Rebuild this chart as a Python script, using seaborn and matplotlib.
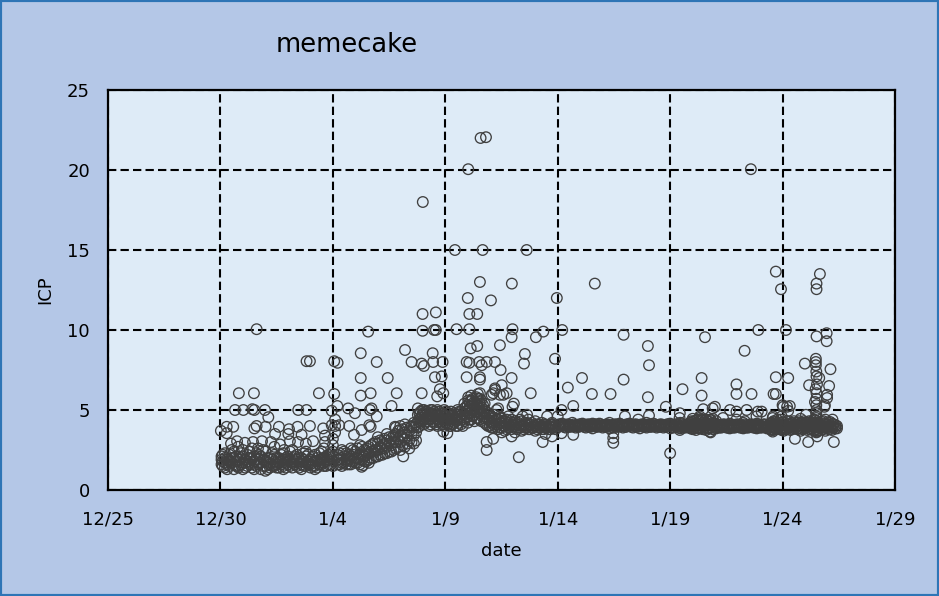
import numpy as np
import pandas as pd
import matplotlib
matplotlib.use("Agg")
import matplotlib.pyplot as plt
from matplotlib.patches import Rectangle
import seaborn as sns

# ---------------- data ----------------
start_date = "2021-12-25"
title = "memecake"
x_label = "date"
y_label = "ICP"
x_tick_labels = ["12/25", "12/30", "1/4", "1/9", "1/14", "1/19", "1/24", "1/29"]
y_ticks = [0, 5, 10, 15, 20, 25]

# dense bands: (days after 12/25, [ICP values at that time])
band_a = [
    (5.05, [1.9, 1.6, 2.1]), (5.2, [1.7, 1.4, 2.0, 2.3]), (5.4, [1.5, 1.8, 2.2]),
    (5.6, [1.3, 1.6, 2.0, 2.4]), (5.8, [1.5, 1.9, 1.4]), (6.0, [1.7, 2.1, 1.3, 2.5]),
    (6.2, [1.5, 1.8, 2.2]), (6.4, [1.4, 1.6, 2.0, 2.6]), (6.6, [1.5, 1.9, 2.3]),
    (6.8, [1.3, 1.7, 2.1]), (7.0, [1.5, 1.8, 2.4, 1.2]), (7.2, [1.6, 2.0, 1.4]),
    (7.4, [1.5, 1.8, 2.2, 2.7]), (7.6, [1.4, 1.7, 2.0]), (7.8, [1.5, 1.9, 2.3, 1.3]),
    (8.0, [1.6, 1.8, 2.1]), (8.2, [1.4, 1.7, 2.0, 2.5]), (8.4, [1.5, 1.9, 2.2]),
    (8.6, [1.3, 1.6, 2.0, 1.8]), (8.8, [1.5, 1.7, 2.1, 2.4]), (9.0, [1.4, 1.6, 1.9]),
    (9.2, [1.5, 1.8, 2.2, 1.3]), (9.4, [1.6, 1.9, 2.3]), (9.6, [1.5, 1.7, 2.0, 2.6]),
    (9.8, [1.6, 1.9, 2.2]),
]
band_a2 = [
    (5.1, [1.5, 1.8, 2.2]), (5.3, [1.6, 1.9, 1.3]), (5.5, [1.7, 2.0, 2.5]),
    (5.7, [1.5, 1.8, 2.1]), (5.9, [1.6, 2.0, 2.3]), (6.1, [1.4, 1.7, 1.9]),
    (6.3, [1.6, 2.0, 2.4]), (6.5, [1.3, 1.8, 2.1]), (6.7, [1.6, 1.7, 2.2]),
    (6.9, [1.5, 1.9, 2.5]), (7.1, [1.3, 1.7, 2.0]), (7.3, [1.5, 1.9, 2.3]),
    (7.5, [1.4, 1.6, 2.0]), (7.7, [1.6, 1.8, 2.2]), (7.9, [1.4, 1.7, 2.0]),
    (8.1, [1.5, 1.9, 2.4]), (8.3, [1.6, 1.8, 2.1]), (8.5, [1.4, 1.7, 2.0]),
    (8.7, [1.5, 1.9, 2.3]), (8.9, [1.6, 1.8, 2.2]), (9.1, [1.5, 1.7, 2.1]),
    (9.3, [1.4, 1.8, 2.0]), (9.5, [1.6, 1.9, 2.4]), (9.7, [1.5, 1.8, 2.1]),
    (9.9, [1.6, 2.0, 2.3]),
]
band_b = [
    (10.0, [1.5, 1.8, 2.1, 2.4, 2.8, 3.2]), (10.1, [3.6, 4.0, 4.4]), (10.2, [1.6, 1.9, 2.2]),
    (10.4, [1.7, 2.0, 1.5, 2.5]), (10.6, [1.6, 1.9, 2.3]), (10.8, [1.8, 2.1, 1.6, 2.6]),
    (11.0, [1.7, 2.0, 2.4]), (11.2, [1.9, 2.2, 1.6, 2.8]), (11.4, [1.8, 2.1, 2.5]),
    (11.6, [1.9, 2.3, 2.7, 1.7]), (11.8, [2.0, 2.4, 2.9]), (12.0, [2.1, 2.5, 2.9, 3.3]),
    (12.2, [2.2, 2.6, 3.0]), (12.4, [2.3, 2.7, 3.1, 3.5]), (12.6, [2.4, 2.8, 3.2]),
    (12.8, [2.6, 3.0, 3.5, 3.9]), (13.0, [2.5, 3.0, 3.4, 4.0]), (13.2, [2.7, 3.2, 3.6, 4.1]),
    (13.4, [2.6, 3.1, 3.7]), (13.6, [2.9, 3.4, 3.9, 4.2]),
]
band_b2 = [
    (10.3, [1.6, 1.9, 2.3]), (10.5, [1.7, 2.1, 2.4]), (10.7, [1.6, 2.0, 2.2]),
    (10.9, [1.8, 2.2, 2.5]), (11.1, [1.7, 2.0, 2.6]), (11.3, [1.9, 2.3, 2.7]),
    (11.5, [1.8, 2.2, 2.6]), (11.7, [2.0, 2.4, 2.8]), (11.9, [2.1, 2.5, 3.0]),
    (12.1, [2.2, 2.7, 3.1]), (12.3, [2.3, 2.8, 3.2]), (12.5, [2.4, 2.9, 3.3]),
    (12.7, [2.5, 3.0, 3.4]), (12.9, [2.7, 3.2, 3.7]), (13.1, [2.8, 3.3, 3.8]),
    (13.3, [2.9, 3.4, 3.9]), (13.5, [3.0, 3.5, 4.0]), (13.7, [3.1, 3.6, 4.1]),
]
band_c = [
    (13.78, [3.9, 4.3, 4.7, 5.1]), (13.9, [4.2, 4.5, 4.9]), (14.05, [4.1, 4.4, 4.8, 5.0]),
    (14.2, [4.3, 4.6, 4.9]), (14.35, [4.1, 4.5, 4.8, 5.0]), (14.5, [4.2, 4.6, 4.9]),
    (14.65, [4.0, 4.4, 4.7, 5.0]), (14.8, [4.2, 4.5, 4.8]), (14.95, [4.0, 4.3, 4.7, 5.0]),
    (15.1, [4.1, 4.4, 4.8]), (15.25, [4.0, 4.3, 4.6, 4.9]), (15.4, [4.2, 4.5, 4.8]),
    (15.55, [4.0, 4.4, 4.7, 5.0]), (15.7, [4.1, 4.5, 4.9]), (15.85, [4.3, 4.7, 5.1, 5.4]),
    (16.0, [4.2, 4.6, 5.0, 5.3]), (16.15, [4.4, 4.8, 5.2, 5.6, 5.9]), (16.3, [4.3, 4.7, 5.1, 5.5]),
    (16.45, [4.5, 4.9, 5.3, 5.7, 6.0]), (16.6, [4.3, 4.8, 5.2, 5.6]), (16.75, [4.2, 4.6, 5.0, 5.4]),
    (16.9, [4.0, 4.4, 4.8]), (17.05, [3.9, 4.2, 4.6]), (17.2, [4.0, 4.3, 4.7]),
    (17.35, [3.8, 4.1, 4.4]), (17.5, [3.9, 4.2, 4.5]), (17.65, [3.7, 4.0, 4.3]),
    (17.8, [3.9, 4.2, 4.6]), (17.95, [3.8, 4.1, 4.4]), (18.1, [3.6, 4.0, 4.3]),
    (18.25, [3.9, 4.2]), (18.4, [3.7, 4.0, 4.3]), (18.55, [3.9, 4.1]),
    (18.7, [3.8, 4.0, 4.4]), (18.85, [3.9, 4.2]), (19.0, [3.7, 4.0, 4.3]),
    (19.15, [3.9, 4.1]), (19.3, [3.8, 4.0, 4.2]), (19.45, [3.9, 4.1, 3.5]),
    (19.6, [3.8, 4.0]), (19.75, [3.9, 4.1, 4.2, 3.35]), (19.9, [3.8, 4.0]),
]
band_c2 = [
    (13.85, [4.0, 4.4, 4.8]), (13.98, [4.3, 4.7, 5.0]), (14.12, [4.2, 4.5, 4.9]),
    (14.28, [4.0, 4.4, 4.8]), (14.42, [4.3, 4.7, 5.0]), (14.58, [4.1, 4.5, 4.8]),
    (14.72, [4.3, 4.6, 4.9]), (14.88, [4.1, 4.4, 4.8]), (15.02, [4.2, 4.6, 4.9]),
    (15.18, [4.0, 4.5, 4.8]), (15.32, [4.1, 4.4, 4.7]), (15.48, [4.0, 4.3, 4.6]),
    (15.62, [4.2, 4.6, 4.9]), (15.78, [4.0, 4.4, 4.8]), (15.92, [4.5, 4.9, 5.2]),
    (16.08, [4.4, 4.8, 5.1, 5.5]), (16.22, [4.6, 5.0, 5.4, 5.7]), (16.38, [4.5, 4.9, 5.3, 5.8]),
    (16.52, [4.4, 4.8, 5.1, 5.5]), (16.68, [4.5, 4.9, 5.3]), (16.82, [4.1, 4.5, 4.9]),
    (16.98, [4.0, 4.3, 4.7]), (17.12, [3.9, 4.2, 4.5]), (17.28, [4.1, 4.4]),
    (17.42, [3.9, 4.2, 4.6]), (17.58, [4.0, 4.3]), (17.72, [3.8, 4.1, 4.4]),
    (17.88, [4.0, 4.3]), (18.02, [3.9, 4.2]), (18.18, [3.8, 4.1]),
    (18.32, [3.9, 4.1, 4.4]), (18.48, [3.8, 4.0]), (18.62, [3.9, 4.2]),
    (18.78, [3.8, 4.1]), (18.92, [3.9, 4.0]), (19.08, [3.8, 4.1]),
    (19.22, [3.9, 4.0]), (19.38, [3.8, 4.1]), (19.52, [3.9, 4.0]),
    (19.68, [3.8, 4.1]), (19.82, [3.9, 4.0]),
]
band_d = [
    (20.05, [3.95, 4.1]), (20.2, [4.0, 4.15]), (20.35, [3.9, 4.05]), (20.5, [3.95, 4.1]),
    (20.65, [4.0, 4.2]), (20.8, [3.9, 4.05]), (20.95, [3.95, 4.1]), (21.1, [4.0, 4.15]),
    (21.25, [3.9, 4.05]), (21.4, [3.95, 4.1]), (21.55, [3.85, 4.0, 4.15]), (21.7, [3.95, 4.1]),
    (21.85, [4.0, 4.15]), (22.0, [3.9, 4.05]), (22.15, [3.95, 4.1]), (22.3, [3.85, 4.0, 4.2]),
    (22.45, [3.9, 4.05]), (22.6, [3.95, 4.1]), (22.75, [4.0, 4.15]), (22.9, [3.9, 4.05]),
    (23.05, [3.95, 4.1]), (23.2, [4.0, 4.15]), (23.35, [3.9, 4.05]), (23.5, [3.95, 4.1]),
    (23.65, [3.85, 4.0]), (23.8, [3.95, 4.1]), (23.95, [3.9, 4.05, 4.2]), (24.1, [3.95, 4.1]),
    (24.25, [4.0, 4.15]), (24.4, [3.9, 4.05]), (24.55, [3.95, 4.1]), (24.7, [3.9, 4.05]),
    (24.85, [3.95, 4.1]),
]
band_d2 = [
    (20.12, [4.0, 4.1]), (20.28, [3.95, 4.05]), (20.42, [4.0, 4.1]), (20.58, [3.95, 4.05]),
    (20.72, [4.0, 4.1]), (20.88, [3.95, 4.05]), (21.02, [4.0, 4.1]), (21.18, [3.95, 4.05]),
    (21.32, [4.0, 4.1]), (21.48, [3.95, 4.05]), (21.62, [4.0, 4.1]), (21.78, [3.95, 4.05]),
    (21.92, [4.0, 4.1]), (22.08, [3.95, 4.05]), (22.22, [4.0, 4.1]), (22.38, [3.95, 4.05]),
    (22.52, [4.0, 4.1]), (22.68, [3.95, 4.05]), (22.82, [4.0, 4.1]), (22.98, [3.95, 4.05]),
    (23.12, [4.0, 4.1]), (23.28, [3.95, 4.05]), (23.42, [4.0, 4.1]), (23.58, [3.95, 4.05]),
    (23.72, [4.0, 4.1]), (23.88, [3.95, 4.05]), (24.02, [4.0, 4.1]), (24.18, [3.95, 4.05]),
    (24.32, [4.0, 4.1]), (24.48, [3.95, 4.05]), (24.62, [4.0, 4.1]), (24.78, [3.95, 4.05]),
    (24.92, [4.0, 4.1]),
]
band_e = [
    (25.0, [3.85, 4.0, 4.15]), (25.15, [3.9, 4.05]), (25.3, [3.95, 4.1]), (25.45, [3.85, 4.0, 4.2]),
    (25.6, [3.9, 4.05]), (25.75, [3.95, 4.1]), (25.9, [3.85, 4.0, 4.2]), (26.0, [3.8, 4.0, 4.25, 4.45]),
    (26.15, [3.75, 3.95, 4.15, 4.35]), (26.3, [3.85, 4.05, 4.3, 4.5]), (26.45, [3.8, 4.0, 4.2, 4.4]),
    (26.6, [3.75, 3.95, 4.15, 4.4]), (26.75, [3.85, 4.05, 4.25]), (26.9, [3.8, 4.0, 4.2, 4.45]),
    (27.05, [3.85, 4.05, 4.3]), (27.2, [3.9, 4.05]), (27.35, [3.95, 4.1]), (27.5, [3.9, 4.05]),
    (27.65, [3.85, 4.0, 4.15]), (27.8, [3.9, 4.05]), (27.95, [3.95, 4.1]), (28.1, [3.9, 4.05]),
    (28.25, [3.85, 4.0, 4.2]), (28.4, [3.9, 4.05]), (28.55, [3.95, 4.1]), (28.7, [3.9, 4.05]),
    (28.85, [3.85, 4.0, 4.15]), (29.0, [3.9, 4.05]), (29.15, [3.95, 4.1]), (29.3, [3.85, 4.0]),
    (29.45, [3.8, 3.95, 4.15]), (29.6, [3.75, 3.9, 4.1, 4.3]), (29.75, [3.8, 4.0, 4.2]),
]
band_e2 = [
    (25.08, [3.95, 4.05]), (25.22, [4.0, 4.1]), (25.38, [3.9, 4.05]), (25.52, [3.95, 4.1]),
    (25.68, [3.9, 4.0]), (25.82, [3.95, 4.1]), (25.95, [3.9, 4.1, 4.3]), (26.08, [3.85, 4.1, 4.3]),
    (26.22, [3.9, 4.15, 4.4]), (26.38, [3.85, 4.1, 4.35]), (26.52, [3.9, 4.1, 4.3]),
    (26.68, [3.85, 4.1, 4.3]), (26.82, [3.9, 4.1, 4.35]), (26.98, [3.9, 4.15]),
    (27.12, [3.95, 4.1]), (27.28, [3.9, 4.0]), (27.42, [3.95, 4.1]), (27.58, [3.9, 4.05]),
    (27.72, [3.95, 4.1]), (27.88, [3.9, 4.0]), (28.02, [3.95, 4.1]), (28.18, [3.9, 4.05]),
    (28.32, [3.95, 4.1]), (28.48, [3.9, 4.0]), (28.62, [3.95, 4.1]), (28.78, [3.9, 4.05]),
    (28.92, [3.95, 4.1]), (29.08, [3.9, 4.0]), (29.22, [3.95, 4.1]), (29.38, [3.85, 4.05]),
    (29.52, [3.8, 4.0, 4.2]), (29.68, [3.85, 4.05, 4.25]), (29.82, [3.9, 4.1]),
]
band_f = [
    (29.9, [3.8, 4.0, 4.2, 4.4]), (30.05, [3.7, 3.9, 4.1]), (30.2, [3.8, 4.0, 4.3]),
    (30.35, [3.75, 3.95, 4.15]), (30.5, [3.85, 4.05, 4.3]), (30.65, [3.8, 4.0, 4.2]),
    (30.8, [3.7, 3.95, 4.2, 4.45]), (30.95, [3.85, 4.05, 4.3]), (31.1, [3.75, 3.95, 4.2]),
    (31.25, [3.8, 4.0, 4.25]), (31.4, [3.7, 3.9, 4.15, 4.4]), (31.5, [3.6, 3.8, 4.0, 4.2, 4.5, 4.8]),
    (31.6, [3.75, 3.95, 4.2]), (31.75, [3.8, 4.0, 4.25]), (31.9, [3.7, 3.95, 4.15, 4.4]),
    (32.05, [3.8, 4.0, 4.2]), (32.2, [3.75, 3.95, 4.15]), (32.35, [3.85, 4.05]),
]
band_f2 = [
    (29.98, [3.85, 4.05, 4.25]), (30.12, [3.8, 4.0, 4.2]), (30.28, [3.9, 4.1]),
    (30.42, [3.8, 4.0, 4.2]), (30.58, [3.9, 4.1]), (30.72, [3.85, 4.05, 4.3]),
    (30.88, [3.8, 4.0, 4.2]), (31.02, [3.9, 4.1]), (31.18, [3.8, 4.0, 4.3]),
    (31.32, [3.85, 4.1]), (31.45, [3.9, 4.1, 4.35]), (31.55, [3.7, 3.9, 4.1, 4.3]),
    (31.68, [3.85, 4.1]), (31.82, [3.8, 4.0, 4.3]), (31.98, [3.9, 4.1]),
    (32.12, [3.8, 4.0, 4.25]), (32.28, [3.9, 4.1]), (32.42, [3.85, 4.0]),
]

# individual scattered points: days after 12/25, ICP
scatter_days = [
    # 12/30 - 1/4
    5.28, 5.57, 6.61, 6.51, 7.01, 7.60, 8.05, 8.43, 8.98, 9.57, 9.95, 7.13, 5.28,
    5.65, 6.02, 6.42, 6.51, 6.98, 8.46, 8.83, 9.95,
    5.82, 6.49, 9.38, 10.06,
    8.83, 8.98, 10.06, 10.21,
    6.61,
    5.47, 5.74, 6.09, 6.45, 6.85, 7.25, 7.65, 8.09, 8.45, 8.80, 9.12, 9.65, 5.79,
    7.43, 8.02, 8.61, 9.65, 6.67, 7.83, 5.02,
    # 1/4 - 1/9
    11.57, 13.99, 14.58, 13.99, 14.50, 14.58, 11.24, 13.21, 11.95, 13.50, 13.95, 14.05,
    14.44, 14.46, 14.88, 11.24, 12.44, 14.84, 14.54, 11.24, 11.68, 12.84, 13.95, 14.76,
    14.64, 14.91, 10.20, 10.68, 10.98, 11.65, 11.72, 12.61, 11.95, 10.28, 10.73, 10.94,
    11.68, 11.62, 12.76, 13.50, 12.98, 11.28, 11.35, 11.28, 13.13,
    # 1/9 - 1/14
    14.0, 16.57, 16.81, 16.02, 15.43, 16.66, 18.62, 16.54, 17.96, 16.0, 17.03, 16.07,
    16.42, 19.96,
    16.02, 16.02, 16.54, 16.54, 16.54, 16.54, 16.54, 17.21, 17.13, 17.43, 17.73, 17.51,
    18.80, 17.95, 15.95, 15.95, 16.07, 16.51, 16.62, 16.84, 17.21, 17.46, 16.13, 16.42,
    17.43, 18.54, 18.50, 19.88, 15.50, 16.07, 17.99, 17.95, 19.03, 19.36,
    16.84, 16.84, 17.13, 18.27, 19.33, 17.95, 17.51, 15.09, 14.91,
    17.43, 18.05, 17.99, 18.64, 19.53, 18.44, 17.35, 17.21, 17.06, 17.58, 17.28,
    # 1/14 - 1/19
    20.2, 22.93, 24.01, 24.06, 20.45, 21.08, 21.52, 22.35, 22.93, 24.01, 20.69, 20.17,
    24.81, 25.0, 21.65,
    20.17, 20.69, 22.47, 22.47, 22.47, 22.99, 23.58, 24.06, 20.0,
    # 1/19 - 1/24
    26.55, 28.31, 26.40, 25.55, 26.40, 27.95, 27.95, 28.62, 29.70, 29.6, 29.7, 28.92,
    28.59, 29.70, 29.93,
    25.43, 26.47, 26.89, 26.99, 27.66, 27.95, 28.40, 28.90, 29.07, 28.84, 30.03, 30.20,
    29.56, 29.76, 29.51, 29.56, 29.96, 29.96,
    25.42, 26.32, 26.80, 27.35, 27.95, 28.32, 26.77, 26.80, 25.43, 29.58, 28.89,
    # 1/24 - 1/26
    31.66, 31.51, 31.51, 30.15, 31.51, 31.96, 31.96, 30.99, 31.48, 31.48, 31.48, 32.13,
    30.25, 31.51, 31.63, 31.18, 32.07, 31.51, 31.98, 31.98, 31.44, 31.88, 30.0, 30.32,
    30.25, 31.51, 31.51, 31.04, 32.22, 30.55, 31.14, 32.28, 31.54, 31.54,
    31.5, 31.5, 31.53, 31.47, 31.5, 31.86, 31.0,
]
scatter_icp = [
    # 12/30 - 1/4
    3.95, 3.95, 4.0, 3.85, 3.95, 3.95, 3.8, 3.95, 4.0, 3.85, 4.05, 4.55, 3.55,
    5.0, 5.0, 5.05, 5.0, 5.0, 5.0, 5.0, 4.95,
    6.05, 6.05, 6.05, 6.0,
    8.05, 8.05, 8.05, 7.95,
    10.05,
    2.9, 3.05, 2.95, 3.0, 3.05, 3.0, 2.85, 3.05, 3.0, 2.9, 3.05, 3.0, 2.7,
    3.5, 3.5, 3.45, 3.4, 2.6, 2.5, 3.7,
    # 1/4 - 1/9
    9.9, 11.0, 11.1, 9.95, 10.0, 10.0, 8.55, 8.75, 8.0, 8.0, 7.9, 7.75,
    8.55, 8.0, 8.0, 7.0, 7.0, 7.1, 7.05, 5.9, 6.05, 6.05, 6.05, 6.3,
    5.85, 6.05, 5.25, 5.1, 4.8, 5.0, 5.1, 5.25, 4.6, 4.05, 4.0, 3.45,
    3.95, 4.05, 3.95, 3.95, 3.75, 3.75, 1.55, 1.45, 2.1,
    # 1/9 - 1/14
    18.0, 22.0, 22.05, 20.05, 15.0, 15.0, 15.0, 13.0, 12.9, 12.0, 11.85, 11.0,
    11.0, 12.0,
    5.6, 5.8, 6.05, 5.7, 5.4, 7.05, 6.9, 6.25, 6.05, 5.95, 6.05, 6.55,
    6.05, 7.0, 7.05, 8.0, 7.95, 8.0, 7.8, 8.0, 8.0, 7.5, 8.85, 9.0,
    9.05, 8.5, 7.9, 8.2, 10.05, 10.05, 10.05, 9.55, 9.55, 9.9,
    3.0, 2.5, 3.2, 2.05, 3.0, 3.35, 3.6, 3.55, 3.65,
    4.5, 5.4, 5.2, 4.7, 4.6, 4.6, 5.1, 6.35, 5.95, 5.95, 5.0,
    # 1/14 - 1/19
    10.0, 9.7, 9.0, 7.8, 6.4, 7.0, 6.0, 6.0, 6.9, 5.8, 5.25, 5.0,
    5.2, 2.3, 12.9,
    3.55, 3.45, 3.55, 3.25, 2.95, 4.6, 4.4, 4.65, 4.6,
    # 1/19 - 1/24
    9.55, 8.7, 7.0, 6.3, 5.9, 6.6, 6.0, 6.0, 7.05, 6.0, 6.0, 10.0,
    20.05, 13.65, 12.55,
    4.8, 5.05, 5.1, 5.2, 5.0, 4.9, 5.0, 4.9, 4.9, 4.6, 5.2, 5.2,
    4.5, 4.4, 3.75, 3.65, 3.75, 4.6,
    4.5, 4.6, 4.4, 4.5, 4.4, 4.3, 3.65, 3.6, 3.75, 4.6, 4.05,
    # 1/24 - 1/26
    13.5, 12.9, 12.55, 10.0, 9.6, 9.8, 9.3, 7.9, 8.2, 8.0, 7.8, 7.55,
    7.0, 7.1, 7.0, 6.55, 6.5, 6.05, 5.95, 5.75, 5.5, 5.3, 5.3, 5.25,
    4.95, 5.0, 4.6, 4.7, 4.4, 3.2, 3.0, 3.0, 3.35, 3.65,
    5.3, 5.7, 6.6, 6.3, 7.4, 5.2, 4.2,
]

# ---------------- assemble ----------------
bands = (band_a + band_a2 + band_b + band_b2 + band_c + band_c2
         + band_d + band_d2 + band_e + band_e2 + band_f + band_f2)
band_days = [d for d, vals in bands for _ in vals]
band_icp = [v for _, vals in bands for v in vals]
all_days = band_days + scatter_days
all_icp = band_icp + scatter_icp

t0 = pd.Timestamp(start_date)
df = pd.DataFrame({
    "date": t0 + pd.to_timedelta(all_days, unit="D"),
    "ICP": all_icp,
})

# ---------------- style ----------------
sns.set_theme(style="white")
plt.rcParams["font.family"] = ["DejaVu Sans"]

fig_bg = "#B4C7E7"
ax_bg = "#DEEBF7"
fig = plt.figure(figsize=(9.39, 5.96), dpi=100, facecolor=fig_bg)
ax = fig.add_axes([108 / 939, 106 / 596, 787 / 939, 400 / 596])
ax.set_facecolor(ax_bg)

sns.scatterplot(data=df, x="date", y="ICP", ax=ax, marker="o", s=58,
                color="none", edgecolor="#404040", linewidth=0.95, zorder=3,
                legend=False)
for coll in ax.collections:
    coll.set_facecolor("none")

xticks = pd.date_range(t0, periods=len(x_tick_labels), freq="5D")
ax.set_xlim(xticks[0], xticks[-1])
ax.set_xticks(xticks)
ax.set_xticklabels(x_tick_labels)
ax.set_ylim(y_ticks[0], y_ticks[-1])
ax.set_yticks(y_ticks)
ax.set_yticklabels([str(v) for v in y_ticks])

ax.grid(True, color="black", linestyle=(0, (4, 2)), linewidth=1.5)
ax.set_axisbelow(True)
for sp in ax.spines.values():
    sp.set_visible(True)
    sp.set_color("black")
    sp.set_linewidth(1.6)
    sp.set_zorder(4)

ax.tick_params(axis="x", length=0, pad=15, labelsize=13, labelcolor="black")
ax.tick_params(axis="y", length=0, pad=13, labelsize=13, labelcolor="black")

ax.set_xlabel(x_label, fontsize=13, color="black")
ax.set_ylabel(y_label, fontsize=13, color="black")
ax.xaxis.label.set_va("center")
ax.yaxis.label.set_va("center")
ax.xaxis.set_label_coords((501 - 108) / 787, (490 - 551) / 400)
ax.yaxis.set_label_coords((45 - 108) / 787, 0.5)

fig.text(347 / 939, 1 - 45 / 596, title, ha="center", va="center",
         fontsize=18.5, color="black")

fig.patches.append(Rectangle((0, 0), 1, 1, transform=fig.transFigure,
                             fill=False, edgecolor="#2E75B6", linewidth=3,
                             zorder=10))

fig.savefig("out.png", dpi=100, facecolor=fig_bg)
